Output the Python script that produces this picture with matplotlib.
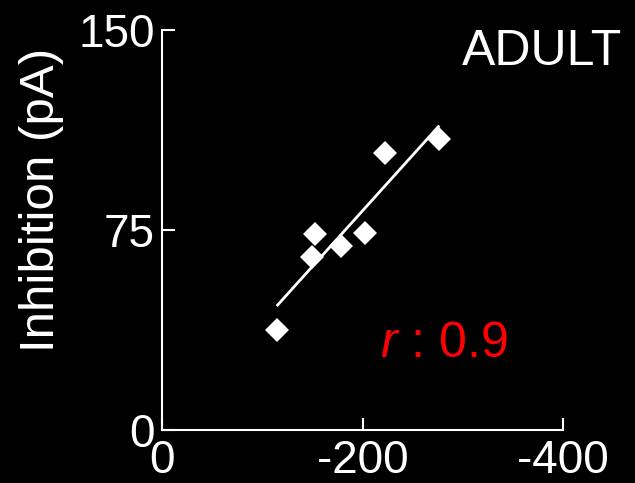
import numpy as np
import matplotlib
matplotlib.use("Agg")
import matplotlib.pyplot as plt

plt.rcParams['font.family'] = ['Liberation Sans', 'DejaVu Sans']
plt.rcParams['mathtext.fontset'] = 'custom'
plt.rcParams['mathtext.rm'] = 'Liberation Sans'
plt.rcParams['mathtext.it'] = 'Liberation Sans:italic'

# peak excitation (pA) vs inhibition (pA), adult cells
excitation = [-114.4, -149.4, -152.6, -178.3, -202.5, -222.4, -276.6]
inhibition = [37.6, 64.9, 73.6, 69.0, 73.8, 103.9, 109.2]
x_ticks = [0, -200, -400]
y_ticks = [0, 75, 150]
r_value = 0.9

fig = plt.figure(figsize=(6.35, 4.83), dpi=100, facecolor='black')
ax = fig.add_axes([162/635, 53/483, 401/635, 400/483])
ax.set_facecolor('black')

# linear fit through the points
slope, icpt = np.polyfit(excitation, inhibition, 1)
xf = np.array([min(excitation), max(excitation)])
ax.plot(xf, slope*xf + icpt, color='white', lw=2, zorder=2,
        solid_capstyle='butt')

ax.plot(excitation, inhibition, 'D', color='white', ms=12.5, mew=0,
        zorder=3, clip_on=False)

ax.set_xlim(0, -400)
ax.set_ylim(0, 150)
ax.set_xticks(x_ticks)
ax.set_yticks(y_ticks)
ax.set_xticklabels([str(v) for v in x_ticks])
ax.set_yticklabels([str(v) for v in y_ticks])

for s in ['top', 'right']:
    ax.spines[s].set_visible(False)
for s in ['left', 'bottom']:
    ax.spines[s].set_color('white')
    ax.spines[s].set_linewidth(1.5)

ax.tick_params(axis='both', direction='in', length=9, width=1.5,
               colors='white', labelsize=33)
ax.tick_params(axis='x', pad=6.5)
ax.tick_params(axis='y', pad=5)

ax.set_ylabel('Inhibition (pA)', color='white', fontsize=35.5)
ax.yaxis.set_label_coords(-0.245, 0.575)

ax.text(-217.5, 27.4, r'$\mathit{r}$ : %.1f' % r_value, color='red',
        fontsize=36, ha='left', va='baseline')
fig.text(462/635, 1 - 65/483, 'ADULT', color='white', fontsize=36,
         ha='left', va='baseline')

fig.savefig('out.png', dpi=100, facecolor='black')
